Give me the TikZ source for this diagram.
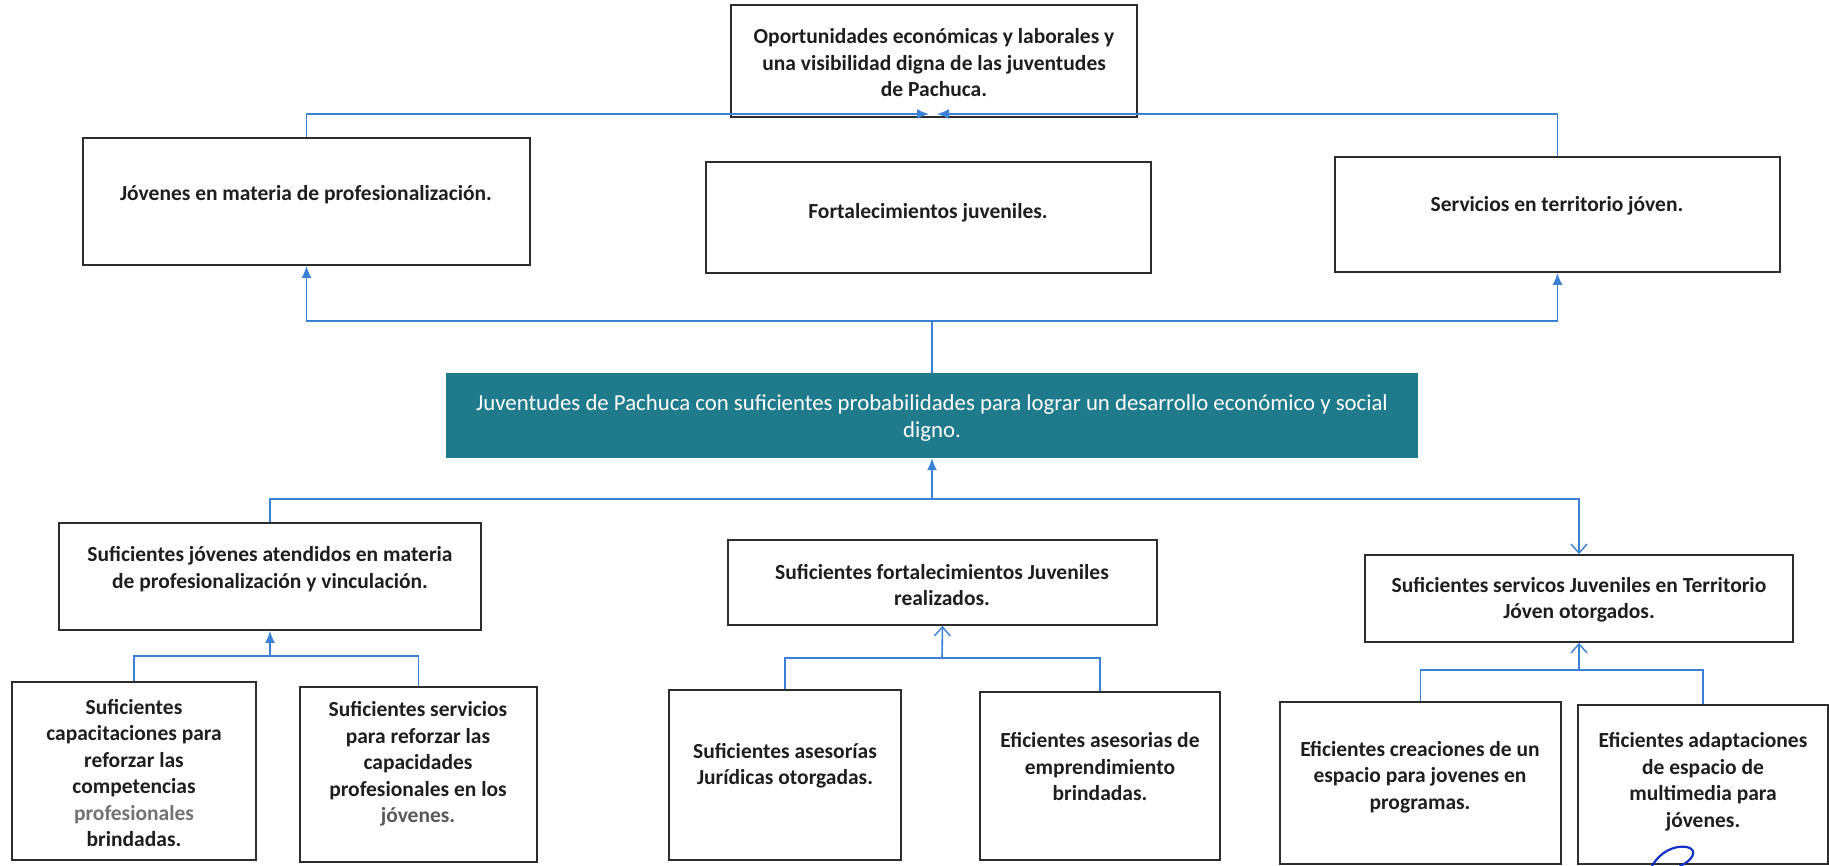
\documentclass[tikz,border=0pt]{standalone}
\usepackage{fontspec}
\setmainfont{Carlito}
\usetikzlibrary{arrows.meta}
\definecolor{tealbox}{RGB}{31,122,140}
\definecolor{connblue}{RGB}{59,130,214}
\definecolor{inkblue}{RGB}{20,50,200}
\definecolor{boxline}{RGB}{45,45,45}
\definecolor{txtcol}{RGB}{30,30,30}
\newcommand\mkbox[6][box]{\node[#1, minimum width={#5-#3}, minimum height={#6-#4}] (#2) at ({(#3+#5)/2},{(#4+#6)/2}) {};}
\begin{document}
\begin{tikzpicture}[x=1pt,y=-1pt,
  box/.style={draw=boxline, line width=1.8pt, inner sep=0pt, fill=white},
  tealrect/.style={fill=tealbox, draw=none, inner sep=0pt},
  txt/.style={align=center, inner sep=0pt, text=txtcol, font=\fontsize{21.5}{26.5}\selectfont\bfseries},
  wtxt/.style={align=center, inner sep=0pt, text=white, font=\fontsize{22.8}{26.5}\selectfont},
  conn/.style={draw=connblue, line width=1.6pt},
  filltip/.style={-{Latex[length=12pt,width=10pt]}},
  opentip/.style={-{Straight Barb[length=9pt,width=16pt,line width=1.4pt]}},
  scrib/.style={draw=inkblue, line width=2.2pt, line cap=round}
]
\useasboundingbox[fill=white] (0,0) rectangle (1829,866);

% top goal
\mkbox{top}{731}{5}{1137}{117}
\node[txt] (topt) at (934,63) {Oportunidades económicas y laborales y\\una visibilidad digna de las juventudes\\de Pachuca.};

% level 2
\mkbox{jov}{83}{138}{530}{265}
\node[txt] (jovt) at (306,195) {Jóvenes en materia de profesionalización.};
\mkbox{fort}{706}{162}{1151}{273}
\node[txt] (fortt) at (928,213) {Fortalecimientos juveniles.};
\mkbox{serv}{1335}{157}{1780}{272}
\node[txt] (servt) at (1557,206) {Servicios en territorio jóven.};

% central teal
\mkbox[tealrect]{teal}{446}{373}{1418}{458}
\node[wtxt] (tealt) at (932,418) {Juventudes de Pachuca con suficientes probabilidades para lograr un desarrollo económico y social\\digno.};

% level 4
\mkbox{sjov}{59}{523}{481}{630}
\node[txt] (sjovt) at (270,569) {Suficientes jóvenes atendidos en materia\\de profesionalización y vinculación.};
\mkbox{sfort}{728}{540}{1157}{625}
\node[txt] (sfortt) at (942,585) {Suficientes fortalecimientos Juveniles\\realizados.};
\mkbox{sserv}{1365}{555}{1793}{642}
\node[txt] (sservt) at (1579,600) {Suficientes servicos Juveniles en Territorio\\Jóven otorgados.};

% level 5
\mkbox{capa}{12}{682}{256}{860}
\node[txt] (capat) at (134,773) {Suficientes\\capacitaciones para\\reforzar las\\competencias\\{\color{black!55}profesionales}\\brindadas.};
\mkbox{servi}{300}{687}{537}{862}
\node[txt] (servit) at (418,764) {Suficientes servicios\\para reforzar las\\capacidades\\profesionales en los\\{\color{black!65}jóvenes.}};
\mkbox{jur}{669}{690}{901}{860}
\node[txt] (jurt) at (785,766) {Suficientes asesorías\\Jurídicas otorgadas.};
\mkbox{empr}{980}{692}{1220}{860}
\node[txt] (emprt) at (1100,767) {Eficientes asesorias de\\emprendimiento\\brindadas.};
\mkbox{crea}{1280}{702}{1561}{864}
\node[txt] (creat) at (1420,777) {Eficientes creaciones de un\\espacio para jovenes en\\programas.};
\mkbox{adap}{1578}{705}{1828}{864}
\node[txt] (adapt) at (1703,782) {Eficientes adaptaciones\\de espacio de\\multimedia para\\jóvenes.};

% connectors to top goal
\coordinate (tl) at (929,114);
\coordinate (tr) at (937,114);
\draw[conn,filltip] (jov.north) |- (tl);
\draw[conn,filltip] (serv.north) |- (tr);

% teal to level 2
\coordinate (m1) at (932,321);
\draw[conn] (teal.north) -- (m1);
\draw[conn,filltip] (m1) -| (jov.south);
\draw[conn,filltip] (m1) -| (serv.south);

% level 4 to teal
\coordinate (m2) at (932,499);
\draw[conn,filltip] (m2) -- (teal.south);
\draw[conn] (m2) -| (sjov.north);
\draw[conn,opentip] (m2) -| (sserv.north);

% level 5 groups
\coordinate (m3) at (270,656);
\draw[conn,filltip] (m3) -- (sjov.south);
\draw[conn] (capa.north) |- (m3) -| (servi.north);

\coordinate (m4) at (942,658);
\draw[conn,opentip] (m4) -- (sfort.south);
\draw[conn] (jur.north) |- (m4) -| (empr.north);

\coordinate (m5) at (1579,670);
\draw[conn,opentip] (m5) -- (sserv.south);
\draw[conn] (crea.north) |- (m5) -| (adap.north);

% handwritten mark
\draw[scrib] (1652,866) .. controls (1660,852) and (1674,845) .. (1687,847) .. controls (1699,850) and (1692,861) .. (1680,866);
\end{tikzpicture}
\end{document}
